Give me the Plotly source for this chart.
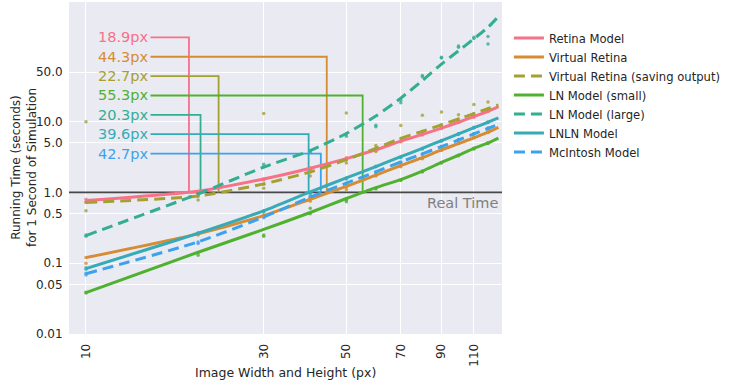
import math
import plotly.graph_objects as go

# ---------------- data ----------------
models = ["Retina Model", "Virtual Retina", "Virtual Retina (saving output)",
          "LN Model (small)", "LN Model (large)", "LNLN Model", "McIntosh Model"]
colors = ["#f77189", "#d58c32", "#a4a031", "#50b131", "#34ae91", "#37abb5", "#3ba3ec"]
dashed = [False, False, True, False, True, False, True]

# fitted curves (image size in px -> seconds per 1 s of simulation)
x_fit = [10, 20, 30, 40, 50, 60, 70, 80, 90, 100, 110, 120, 128]
retina_fit = [0.77, 1.04, 1.55, 2.2, 3.0, 4.0, 5.3, 6.6, 8.1, 9.8, 11.8, 14.0, 16.3]
vr_fit = [0.12, 0.26, 0.47, 0.8, 1.22, 1.75, 2.4, 3.1, 4.0, 4.9, 5.9, 7.1, 8.3]
vrsave_fit = [0.72, 0.89, 1.32, 1.95, 2.9, 4.2, 5.8, 7.3, 9.0, 10.9, 13.0, 15.2, 17.2]
lnsmall_fit = [0.0385, 0.143, 0.30, 0.52, 0.82, 1.17, 1.52, 2.0, 2.65, 3.35, 4.2, 5.0, 5.85]
lnlarge_fit = [0.246, 0.95, 2.28, 3.9, 6.8, 12.0, 21.5, 38, 65, 100, 148, 215, 305]
lnln_fit = [0.084, 0.265, 0.55, 1.02, 1.6, 2.32, 3.2, 4.2, 5.4, 6.7, 8.2, 9.8, 11.3]
mcintosh_fit = [0.071, 0.2, 0.45, 0.86, 1.35, 1.95, 2.7, 3.5, 4.45, 5.5, 6.7, 8.0, 9.2]
fits = [retina_fit, vr_fit, vrsave_fit, lnsmall_fit, lnlarge_fit, lnln_fit, mcintosh_fit]

# measured runs
x_meas = [10, 20, 30, 40, 50, 60, 70, 80, 90, 100, 110, 120]
retina_runs = [[0.74, 1.03, 1.55, 2.15, 3.1, 3.9, 5.3, 6.5, 8.1, 9.7, 11.8, 13.9],
               [0.8, 1.0, 1.5, 2.2, 2.9, 4.0, 5.2, 6.7, 8.0, 9.9, 11.5, 14.2]]
vr_runs = [[0.1, 0.25, 0.46, 0.8, 1.2, 1.75, 2.4, 3.1, 4.0, 4.9, 5.9, 7.1],
           [0.12, 0.26, 0.48, 0.75, 1.1, 1.7, 2.3, 3.0, 3.9, 5.0, 6.0, 7.0]]
vrsave_runs = [[0.72, 0.88, 1.3, 1.95, 2.9, 4.2, 5.8, 7.3, 9.0, 10.9, 13.0, 15.2],
               [0.55, 0.78, 1.15, 1.7, 2.6, 3.8, 5.3, 6.8, 8.2, 10.0, 12.0, 14.5],
               [10.0, 1.0, 13.0, 2.2, 13.2, 4.6, 8.8, 12.3, 13.7, 12.5, 17.5, 19.0]]
lnsmall_runs = [[0.038, 0.14, 0.24, 0.5, 0.74, 1.12, 1.48, 1.95, 2.6, 3.3, 4.1, 4.9],
                [0.039, 0.13, 0.25, 0.6, 0.78, 1.15, 1.5, 2.0, 2.65, 3.35, 4.2, 5.0]]
lnlarge_runs = [[0.24, 0.93, 2.3, 3.7, 6.2, 8.5, 18.5, 45, 81, 112, 150, 125],
                [0.25, 0.97, 2.5, 3.9, 6.7, 8.9, 20, 43, 79, 117, 155, 160]]
lnln_runs = [[0.082, 0.27, 0.55, 0.85, 1.55, 2.3, 3.1, 4.1, 5.3, 6.6, 8.1, 9.7],
             [0.086, 0.26, 0.53, 0.95, 1.6, 2.35, 3.2, 4.2, 5.4, 6.8, 8.3, 9.9]]
mcintosh_runs = [[0.068, 0.2, 0.44, 0.85, 1.3, 1.9, 2.65, 3.5, 4.4, 5.5, 6.7, 8.0],
                 [0.072, 0.19, 0.46, 0.88, 1.35, 1.95, 2.7, 3.45, 4.5, 5.6, 6.8, 8.1]]
runs = [retina_runs, vr_runs, vrsave_runs, lnsmall_runs, lnlarge_runs, lnln_runs, mcintosh_runs]

# image size at which each model reaches real time
crossings = [18.9, 44.3, 22.7, 55.3, 20.3, 39.6, 42.7]

x_ticks = [10, 30, 50, 70, 90, 110]
y_ticks = [0.01, 0.05, 0.1, 0.5, 1.0, 5.0, 10.0, 50.0]
y_ticktext = ["0.01", "0.05", "0.1", "0.5", "1.0", "5.0", "10.0", "50.0"]
real_time = 1.0

FONT = "DejaVu Sans"
fig = go.Figure()

# measured dots
for name, col, rr in zip(models, colors, runs):
    for r in rr:
        fig.add_trace(go.Scatter(x=x_meas, y=r, mode="markers", showlegend=False,
                                 marker=dict(color=col, size=3.5, opacity=0.8),
                                 hoverinfo="skip"))

# real time line
fig.add_trace(go.Scatter(x=[x_fit[0] * 0.5, x_fit[-1] * 1.5], y=[real_time, real_time],
                         mode="lines", showlegend=False,
                         line=dict(color="rgba(40,40,40,0.85)", width=1.8)))

# connectors from labels to crossing points
label_x_end = 14.9
for i, (c, col) in enumerate(zip(crossings, colors)):
    ly = 10 ** (2.19 - 0.2735 * i)
    fig.add_trace(go.Scatter(x=[label_x_end, c, c], y=[ly, ly, real_time], mode="lines",
                             showlegend=False, line=dict(color=col, width=1.8)))
    fig.add_annotation(x=math.log10(label_x_end), y=math.log10(ly), xanchor="right",
                       yanchor="middle", text=f"{c}px", showarrow=False, xshift=-1,
                       font=dict(family=FONT, size=14.5, color=col))

# fitted curves
for name, col, d, f in zip(models, colors, dashed, fits):
    fig.add_trace(go.Scatter(x=x_fit, y=f, mode="lines", name=name,
                             line=dict(color=col, width=3, shape="spline", smoothing=0.6,
                                       dash="11px,6px" if d else "solid")))

fig.add_annotation(x=1, xref="paper", y=0, xanchor="right", yanchor="top",
                   text="Real Time", showarrow=False, xshift=-2, yshift=-1,
                   font=dict(family=FONT, size=14.5, color="#808080"))

fig.add_annotation(x=0, xref="paper", y=0.5, yref="paper", xshift=-45, textangle=-90,
                   xanchor="center", yanchor="middle", showarrow=False,
                   text="Running Time (seconds)<br>for 1 Second of Simulation",
                   font=dict(family=FONT, size=12, color="#262626"))
fig.add_annotation(x=0.5, xref="paper", y=-0.117, yref="paper", xanchor="center",
                   yanchor="middle", showarrow=False, text="Image Width and Height (px)",
                   font=dict(family=FONT, size=12.5, color="#262626"))

fig.update_layout(
    width=737, height=384,
    margin=dict(l=69, r=235, t=2, b=50),
    paper_bgcolor="white", plot_bgcolor="#eaeaf2",
    font=dict(family=FONT, size=12, color="#262626"),
    legend=dict(x=1.016, xanchor="left", y=0.935, yanchor="top",
                font=dict(family=FONT, size=11.6, color="#262626"),
                bgcolor="rgba(0,0,0,0)", tracegroupgap=0),
    xaxis=dict(type="log", range=[0.9544, 2.1168], tickvals=x_ticks,
               ticktext=[str(v) for v in x_ticks], tickangle=-90,
               showgrid=True, gridcolor="white", gridwidth=1.2, zeroline=False,
               showline=False, ticks="outside", ticklen=4, tickcolor="rgba(0,0,0,0)",
               tickfont=dict(family=FONT, size=12, color="#262626")),
    yaxis=dict(type="log", range=[-2.0, 2.69], tickvals=y_ticks, ticktext=y_ticktext,
               showgrid=True, gridcolor="white", gridwidth=1.2, zeroline=False,
               showline=False, ticks="outside", ticklen=3, tickcolor="rgba(0,0,0,0)",
               tickfont=dict(family=FONT, size=12, color="#262626")),
)

fig.write_html("out.html", config={"displayModeBar": False},
               post_script="document.body.style.margin='0';document.body.style.overflow='hidden';")
